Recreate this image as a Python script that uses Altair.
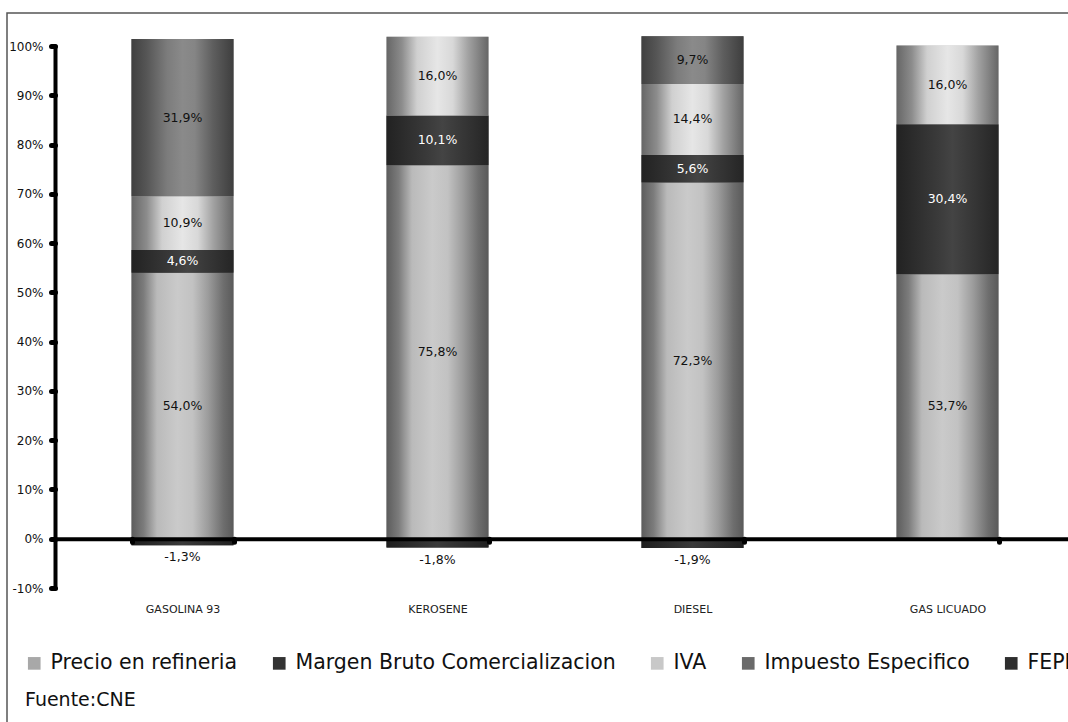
import altair as alt
import pandas as pd

# ---------------- data ----------------
categories = ["GASOLINA 93", "KEROSENE", "DIESEL", "GAS LICUADO"]
series_names = ["Precio en refineria", "Margen Bruto Comercializacion", "IVA",
                "Impuesto Especifico", "FEPP"]
precio = [54.0, 75.8, 72.3, 53.7]
margen = [4.6, 10.1, 5.6, 30.4]
iva = [10.9, 16.0, 14.4, 16.0]
impuesto = [31.9, None, 9.7, None]
fepp = [-1.3, -1.8, -1.9, None]
y_ticks = [-10, 0, 10, 20, 30, 40, 50, 60, 70, 80, 90, 100]
source_note = ["Fuente:CNE"]

rows = []
for si, (name, vals) in enumerate(zip(series_names, [precio, margen, iva, impuesto, fepp])):
    for ci, cat in enumerate(categories):
        if vals[ci] is None:
            continue
        rows.append({"cat": cat, "series": name, "order": si, "value": vals[ci]})
df = pd.DataFrame(rows)

# ---------------- styles ----------------
FONT = "DejaVu Sans"
W, H = 1013, 542
Y_MIN, Y_MAX = -10, 100
zero_px = H * (Y_MAX - 0) / (Y_MAX - Y_MIN)

solid_colors = ["#a8a8a8", "#333333", "#c8c8c8", "#6a6a6a", "#2e2e2e"]


def grad(stops):
    return {"gradient": "linear", "x1": 0, "x2": 1, "y1": 0, "y2": 0,
            "stops": [{"offset": o, "color": c} for o, c in stops]}


gradients = {
    "Precio en refineria": grad([(0, "#5c5c5c"), (0.12, "#7c7c7c"), (0.25, "#bababa"),
                                 (0.45, "#cacaca"), (0.6, "#c2c2c2"), (0.75, "#9c9c9c"),
                                 (0.9, "#6e6e6e"), (1, "#5a5a5a")]),
    "Margen Bruto Comercializacion": grad([(0, "#222222"), (0.4, "#3a3a3a"), (0.55, "#444444"),
                                           (0.8, "#333333"), (1, "#252525")]),
    "IVA": grad([(0, "#666666"), (0.15, "#8c8c8c"), (0.3, "#d0d0d0"), (0.5, "#e6e6e6"),
                 (0.65, "#d8d8d8"), (0.8, "#a2a2a2"), (1, "#666666")]),
    "Impuesto Especifico": grad([(0, "#404040"), (0.15, "#565656"), (0.35, "#7c7c7c"),
                                 (0.5, "#8a8a8a"), (0.62, "#858585"), (0.8, "#5e5e5e"),
                                 (1, "#3e3e3e")]),
    "FEPP": grad([(0, "#1e1e1e"), (0.5, "#3a3a3a"), (1, "#202020")]),
}

x_axis = alt.Axis(orient="bottom", offset=-(H - zero_px), domainColor="black", domainWidth=4,
                  tickBand="extent", tickColor="black", tickWidth=5, tickSize=3, tickCap="round",
                  labelFont=FONT, labelFontSize=11, labelColor="#222", labelPadding=62,
                  labelAngle=0, title=None, zindex=1, grid=False)
y_axis = alt.Axis(values=y_ticks, labelExpr="datum.value + '%'", domainColor="black",
                  domainWidth=4, domainCap="round", tickColor="black", tickWidth=5, tickSize=4,
                  tickCap="round", labelFont=FONT, labelFontSize=12, labelColor="#111",
                  labelPadding=8, grid=False, title=None, zindex=1)

x_scale = alt.Scale(range=[0, 1020], paddingInner=0.6, paddingOuter=0.3)
y_scale = alt.Scale(domain=[Y_MIN, Y_MAX], nice=False, zero=False)


def X():
    return alt.X("cat:N", sort=categories, scale=x_scale, axis=x_axis)


def Y(field):
    return alt.Y(field, scale=y_scale, axis=y_axis)


base = alt.Chart(df).transform_stack(
    stack="value", groupby=["cat"], as_=["y0", "y1"],
    sort=[alt.SortField("order", order="ascending")]
).transform_calculate(
    mid="(datum.y0 + datum.y1) / 2",
    label="(datum.value < 0 ? '-' : '') + replace(format(abs(datum.value), '.1f'), '.', ',') + '%'",
)

solid = base.mark_bar().encode(
    x=X(), y=Y("y0:Q"), y2="y1:Q",
    color=alt.Color("series:N", sort=series_names,
                    scale=alt.Scale(domain=series_names, range=solid_colors),
                    legend=alt.Legend(orient="none", legendX=-31, legendY=607,
                                      direction="horizontal", columns=5, title=None,
                                      symbolType="square", symbolSize=160,
                                      symbolStrokeWidth=0, labelFont=FONT,
                                      labelFontSize=20.5, labelColor="#111",
                                      labelLimit=600, columnPadding=31, labelOffset=6)),
)

grad_layers = [
    base.transform_filter(alt.datum.series == name).mark_bar(color=gradients[name]).encode(
        x=X(), y=Y("y0:Q"), y2="y1:Q")
    for name in series_names
]

inner_labels = base.transform_filter("datum.series != 'FEPP'").mark_text(
    font=FONT, fontSize=12.5, baseline="middle", align="center"
).encode(
    x=X(), y=Y("mid:Q"), text="label:N",
    color=alt.condition(alt.datum.series == "Margen Bruto Comercializacion",
                        alt.value("white"), alt.value("#111")),
)

fepp_labels = base.transform_filter("datum.series == 'FEPP'").mark_text(
    font=FONT, fontSize=12.5, baseline="middle", align="center", dy=12, color="#111"
).encode(x=X(), y=Y("y1:Q"), text="label:N")

frame = alt.Chart(pd.DataFrame({"a": [0]})).mark_rect(
    filled=False, stroke="#555555", strokeWidth=1.5
).encode(x=alt.value(-48), x2=alt.value(1100), y=alt.value(-33), y2=alt.value(800))

note = alt.Chart(pd.DataFrame({"t": source_note})).mark_text(
    align="left", baseline="middle", font=FONT, fontSize=19, color="#111"
).encode(x=alt.value(-30), y=alt.value(654), text="t:N")

chart = alt.layer(frame, solid, *grad_layers, inner_labels, fepp_labels, note).properties(
    width=W, height=H,
    padding={"left": 55, "top": 46, "right": 0, "bottom": 134},
    autosize=alt.AutoSizeParams(type="none"),
    background="white",
).configure_view(stroke=None)

chart.save("out.html", embed_options={"renderer": "svg", "actions": False})
